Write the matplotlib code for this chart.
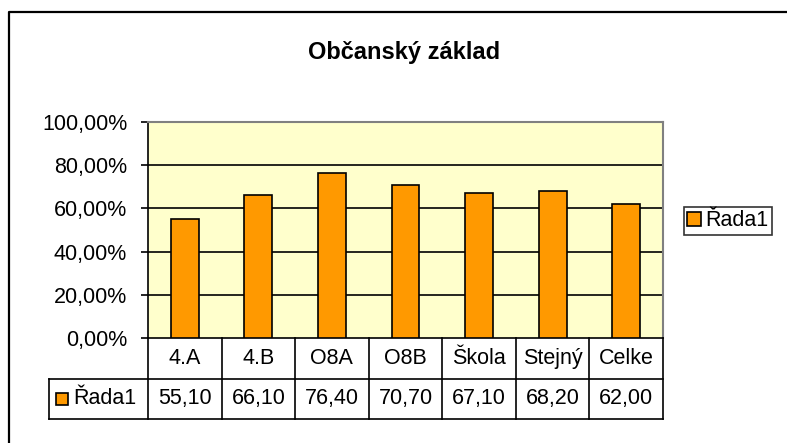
import matplotlib
matplotlib.use("Agg")
import matplotlib.pyplot as plt
from matplotlib.lines import Line2D
from matplotlib.patches import Patch

plt.rcParams['font.family'] = ['Liberation Sans', 'DejaVu Sans']

# data
categories = ['4.A', '4.B', 'O8A', 'O8B', 'Škola', 'Stejný', 'Celke']
values = [55.10, 66.10, 76.40, 70.70, 67.10, 68.20, 62.00]
series_name = 'Řada1'
yticks = [0, 20, 40, 60, 80, 100]

W, H = 787, 443
fig = plt.figure(figsize=(W / 100, H / 100), dpi=100)


def box(x0, y0, x1, y1):
    # pixel box (top-left origin) -> figure fraction rect
    return [x0 / W, 1 - y1 / H, (x1 - x0) / W, (y1 - y0) / H]


orange = '#FF9900'
fs = 15.5

# chart area border (only left and top are visible)
fig.add_artist(Line2D([9 / W, 9 / W, 1], [0, 1 - 12 / H, 1 - 12 / H],
                      color='black', lw=1.6, transform=fig.transFigure))

# plot area
ax = fig.add_axes(box(148, 122, 663, 338))
ax.set_facecolor('#FFFFCC')
x = list(range(len(categories)))
ax.bar(x, [v / 100 for v in values], width=0.38, color=orange,
       edgecolor='black', linewidth=1.2, zorder=3)
ax.set_xlim(-0.5, len(categories) - 0.5)
ax.set_ylim(0, 1)
ax.set_yticks([t / 100 for t in yticks])
ax.set_yticklabels([f'{t:.2f}%'.replace('.', ',') for t in yticks], fontsize=fs)
for t in yticks[1:-1]:
    ax.axhline(t / 100, color='black', lw=1.2, zorder=2)
ax.set_xticks([])
ax.tick_params(axis='y', direction='out', length=5, width=1.2, pad=10)
ax.spines['left'].set_color('black')
ax.spines['left'].set_linewidth(1.2)
ax.spines['bottom'].set_color('black')
ax.spines['bottom'].set_linewidth(1.2)
ax.spines['top'].set_color('#808080')
ax.spines['top'].set_linewidth(1.5)
ax.spines['right'].set_color('#808080')
ax.spines['right'].set_linewidth(1.5)

fig.text(404 / W, 1 - 52 / H, 'Občanský základ', fontsize=17,
         fontweight='bold', ha='center', va='center')

# data table
tax = fig.add_axes(box(49, 338, 663, 419))
px = len(categories) / 515
left = -0.5 - 99 * px
right = len(categories) - 0.5
tax.set_xlim(left, right)
tax.set_ylim(0, 2)
tax.axis('off')
lw = 1.2
for i in range(len(categories) + 1):
    tax.plot([i - 0.5, i - 0.5], [0, 2], color='black', lw=lw, clip_on=False)
tax.plot([left, right], [1, 1], color='black', lw=lw, clip_on=False)
tax.plot([left, right], [0, 0], color='black', lw=lw, clip_on=False)
tax.plot([left, left], [0, 1], color='black', lw=lw, clip_on=False)
for i, (c, v) in enumerate(zip(categories, values)):
    tax.text(i, 1.5, c, fontsize=fs, ha='center', va='center')
    tax.text(i, 0.5, f'{v:.2f}'.replace('.', ','), fontsize=fs,
             ha='center', va='center')
tax.plot([left + 13 * px], [0.5], marker='s', markersize=9, mfc=orange,
         mec='black', mew=1.2, clip_on=False)
tax.text(left + 24 * px, 0.5, series_name, fontsize=fs, ha='left', va='center')

# legend
leg = fig.legend(handles=[Patch(facecolor=orange, edgecolor='black', lw=1.2)],
                 labels=[series_name], loc='center left',
                 bbox_to_anchor=(684 / W, 1 - 221 / H), fontsize=fs,
                 frameon=True, fancybox=False, handlelength=0.65,
                 handleheight=0.65, handletextpad=0.2, borderpad=0.15,
                 borderaxespad=0)
leg.get_frame().set_edgecolor('black')
leg.get_frame().set_linewidth(1.2)

fig.savefig('out.png', dpi=100, facecolor='white')
